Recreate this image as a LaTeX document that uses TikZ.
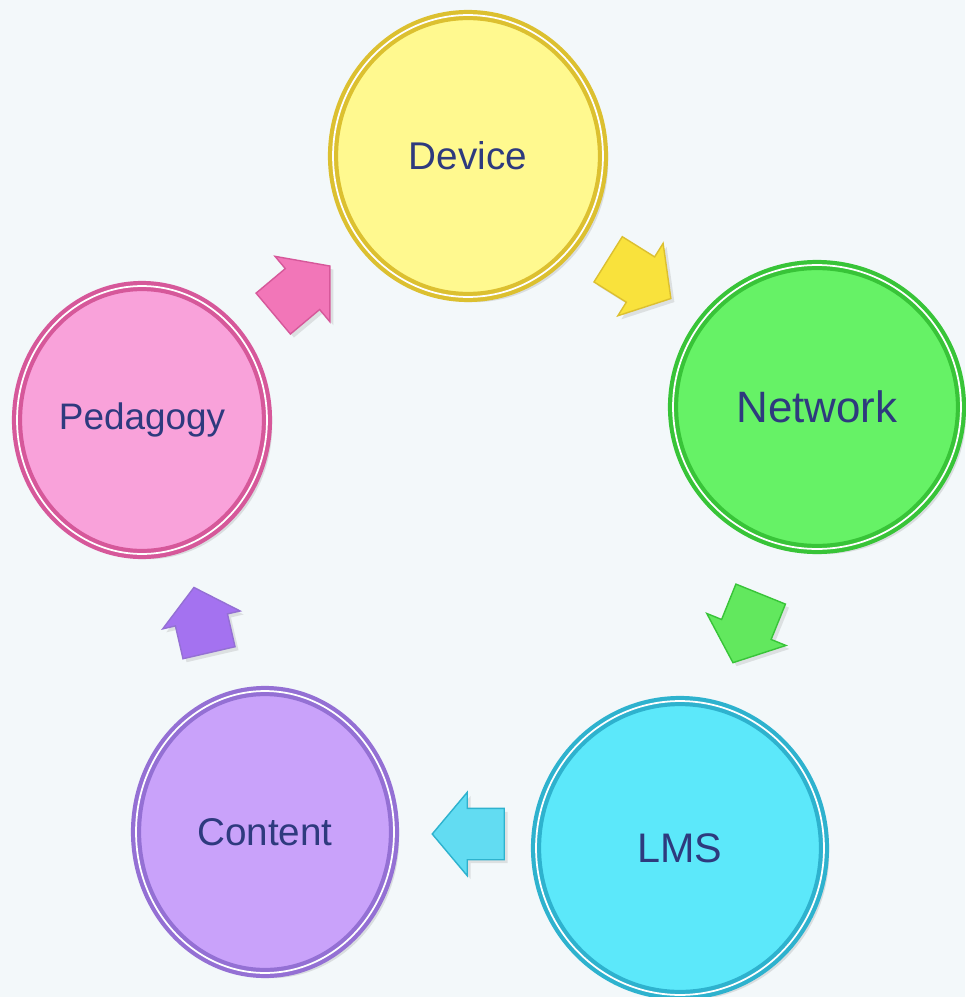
\documentclass[tikz,border=0pt]{standalone}
\usepackage{fontspec}
\setmainfont{Liberation Sans}
\usetikzlibrary{shapes.geometric,shapes.arrows,shadows}

\definecolor{bg}{HTML}{F3F8FA}
\definecolor{txt}{HTML}{2E3A7E}
\definecolor{devfill}{HTML}{FFF98F}
\definecolor{devring}{HTML}{DCC030}
\definecolor{netfill}{HTML}{66F266}
\definecolor{netring}{HTML}{38C438}
\definecolor{lmsfill}{HTML}{5CE8FA}
\definecolor{lmsring}{HTML}{2EB2CE}
\definecolor{confill}{HTML}{C9A2FA}
\definecolor{conring}{HTML}{9470D4}
\definecolor{pedfill}{HTML}{F9A2DA}
\definecolor{pedring}{HTML}{D6589A}
\definecolor{pinkarr}{HTML}{F276B8}
\definecolor{yelarr}{HTML}{F9E23C}
\definecolor{grnarr}{HTML}{62E85E}
\definecolor{cyanarr}{HTML}{62DCF2}
\definecolor{purparr}{HTML}{A472F0}

\begin{document}
\begin{tikzpicture}[x=0.02cm,y=-0.02cm,
  disc/.style={ellipse,inner sep=0pt,outer sep=0pt,line width=2.4pt,
    double=white,double distance=1pt,text=txt,
    font=\fontsize{22}{26}\selectfont,
    drop shadow={shadow xshift=3pt,shadow yshift=-3pt,opacity=0.22}},
  blockarrow/.style={single arrow,inner xsep=0pt,inner ysep=0.52cm,outer sep=0pt,
    minimum height=1.48cm,
    single arrow head extend=0.32cm,single arrow tip angle=100,
    line width=0.8pt,
    drop shadow={shadow xshift=2pt,shadow yshift=-2pt,opacity=0.2}}]
\fill[bg] (0,0) rectangle (965,997);
\useasboundingbox (0,0) rectangle (965,997);

% the five discs
\node[disc,draw=devring,fill=devfill,minimum width=5.4cm,minimum height=5.64cm] (device) at (468,156) {Device};
\node[disc,draw=netring,fill=netfill,minimum width=5.76cm,minimum height=5.68cm,font=\fontsize{25}{30}\selectfont] (network) at (817,407) {Network};
\node[disc,draw=lmsring,fill=lmsfill,minimum width=5.76cm,minimum height=5.88cm,font=\fontsize{23.5}{28}\selectfont] (lms) at (680,848) {LMS};
\node[disc,draw=conring,fill=confill,minimum width=5.16cm,minimum height=5.64cm] (content) at (265,832) {Content};
\node[disc,draw=pedring,fill=pedfill,minimum width=5.0cm,minimum height=5.36cm,font=\fontsize{21}{25}\selectfont] (pedagogy) at (142,420) {Pedagogy};

% block arrows between them
\node[blockarrow,fill=pinkarr,draw=pedring,rotate=40] (pedtodev) at (293,297) {};
\node[blockarrow,fill=yelarr,draw=devring,rotate=-32] (devtonet) at (630,273) {};
\node[blockarrow,fill=grnarr,draw=netring,rotate=-112] (nettolms) at (751,618) {};
\node[blockarrow,fill=cyanarr,draw=lmsring,rotate=180,minimum height=1.44cm,inner ysep=0.5cm] (lmstocon) at (479,834) {};
\node[blockarrow,fill=purparr,draw=conring,rotate=103,minimum height=1.34cm,single arrow head extend=0.26cm] (contoped) at (204,631) {};
\end{tikzpicture}
\end{document}
